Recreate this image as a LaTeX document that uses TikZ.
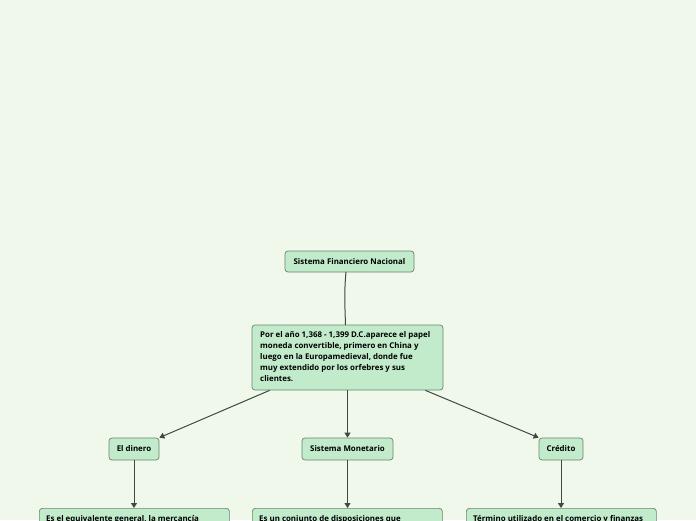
\documentclass[tikz,border=0pt]{standalone}
\usepackage{fontspec}
\setmainfont{Open Sans}
\usetikzlibrary{arrows.meta}
\definecolor{bg}{HTML}{F0F8EC}
\definecolor{boxfill}{HTML}{C1EBCB}
\definecolor{boxline}{HTML}{6A8470}
\definecolor{link}{HTML}{3E4A41}
\tikzset{
  tfont/.style={font=\fontsize{7.9}{11}\selectfont\bfseries},
  topic/.style={draw=boxline, fill=boxfill, rounded corners=3pt, line width=0.7pt,
    tfont, text=black, inner sep=0pt, anchor=north west},
  conn/.style={draw=link, line width=1pt, -{Triangle[length=5pt,width=6pt]}},
  plain/.style={draw=link, line width=1pt}
}
\begin{document}
\begin{tikzpicture}[x=1pt,y=-1pt]
\fill[bg] (0,0) rectangle (696,520);
\useasboundingbox (0,0) rectangle (696,520);
\clip (0,0) rectangle (696,520);
% root
\node[topic, minimum width=129pt, minimum height=21pt, anchor=center] (root) at (349.5,261.5) {Sistema Financiero Nacional};
% main
\node[topic, minimum width=191pt, minimum height=65pt, anchor=center] (main) at (347.5,357.5) {};
\node[tfont, align=left, anchor=north west, inner sep=0pt] (maintext) at (260,331) {Por el año 1,368 - 1,399 D.C.aparece el papel\\moneda convertible, primero en China y\\luego en la Europamedieval, donde fue\\muy extendido por los orfebres y sus\\clientes.};
% level 2
\node[topic, minimum width=50pt, minimum height=22pt, anchor=center] (dinero) at (134,449) {El dinero};
\node[topic, minimum width=91pt, minimum height=22pt, anchor=center] (monet) at (347.5,449) {Sistema Monetario};
\node[topic, minimum width=44pt, minimum height=22pt, anchor=center] (credito) at (561,449) {Crédito};
% level 3 (cut by the page edge)
\node[topic, minimum width=190pt, minimum height=60pt] (d1) at (39,508) {};
\node[topic, minimum width=190pt, minimum height=60pt] (m1) at (252,508) {};
\node[topic, minimum width=190pt, minimum height=60pt] (c1) at (466,508) {};
\node[tfont, anchor=north west, inner sep=0pt] (d1t) at (46,515) {Es el equivalente general, la mercancía};
\node[tfont, anchor=north west, inner sep=0pt] (m1t) at (259,515) {Es un conjunto de disposiciones que};
\node[tfont, anchor=north west, inner sep=0pt] (c1t) at (473,515) {Término utilizado en el comercio y finanzas};
% connectors
\coordinate (rs) at (346,272);
\coordinate (me) at (345.5,325);
\draw[plain] (rs) .. controls (344,292) and (345,308) .. (me);
\draw[conn] (main.south west) ++(18,0) -- (dinero.north east);
\draw[conn] (main.south) -- (monet.north);
\draw[conn] (main.south east) ++(-18,0) -- (credito.north west);
\draw[conn] (dinero.south) -- (d1.north -| dinero.south);
\draw[conn] (monet.south) -- (m1.north -| monet.south);
\draw[conn] (credito.south) -- (c1.north -| credito.south);
\end{tikzpicture}
\end{document}
